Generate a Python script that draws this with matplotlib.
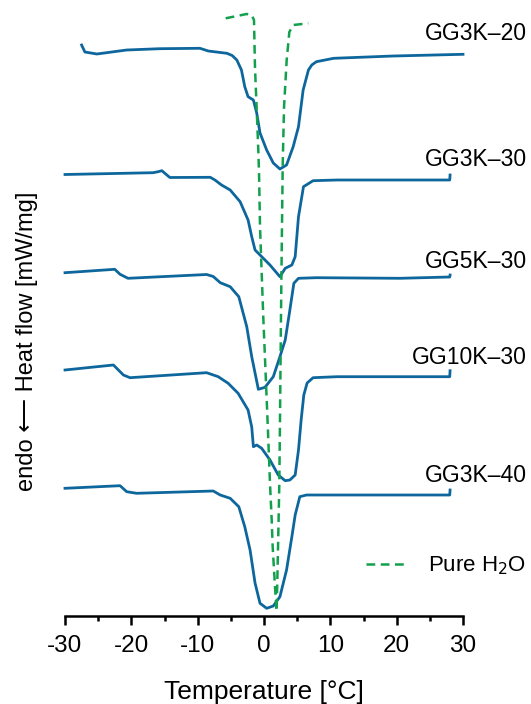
import matplotlib
matplotlib.use("Agg")
import matplotlib.pyplot as plt
from matplotlib.lines import Line2D
from matplotlib.ticker import MultipleLocator

plt.rcParams['font.family'] = ['Liberation Sans', 'DejaVu Sans']
plt.rcParams['axes.unicode_minus'] = False

BLUE = '#0e679c'
GREEN = '#12a04c'

# DSC traces, stacked with an offset (arbitrary heat flow units)
t_3k20 = [-27.5, -27.0, -25.2, -20.7, -15.7, -9.65, -8.4, -5.6, -4.8, -4.1, -3.4, -2.9, -2.4,
          -1.6, -1.1, -0.6, 0.4, 1.4, 2.4, 3.4, 4.4, 5.2, 5.9, 6.7, 7.2, 7.9, 10.5, 19.5, 30.0]
hf_3k20 = [571, 564, 562, 566, 567.3, 567.7, 565, 562.7, 560.5, 556, 546, 529.3, 519.3,
           516, 503, 483, 466, 453, 447, 451, 469.3, 489.3, 526, 546, 551, 554.3, 557.7, 560, 561.7]

t_3k30 = [-30.0, -16.7, -15.95, -15.4, -14.2, -8.1, -7.4, -6.4, -5.1, -3.6, -2.4, -1.85, -1.35,
          -0.6, 0.9, 2.4, 3.2, 4.2, 4.7, 5.2, 5.95, 7.4, 11.0, 20.5, 28.0, 28.05]
hf_3k30 = [441.5, 443.3, 444.3, 445.3, 438.5, 438.7, 436, 431, 426, 414.3, 396, 379.3, 366,
           361, 351, 339.3, 347.7, 351, 359.3, 399.3, 429.3, 435.3, 436, 436, 436, 441]

t_5k30 = [-30.0, -22.5, -21.7, -20.5, -8.65, -7.65, -6.6, -5.1, -3.8, -2.6, -1.85, -0.85,
          0.15, 1.4, 2.4, 3.2, 3.9, 4.5, 5.2, 7.9, 20.5, 28.0, 28.05]
hf_5k30 = [343.3, 346.7, 341.7, 337.7, 341.5, 339.5, 333.3, 329.3, 319.3, 289.3, 259.3, 226.7,
           228.7, 239.3, 259.3, 276, 306, 332.7, 337.7, 338.3, 337.7, 339, 341]

t_10k30 = [-30.0, -22.7, -21.2, -20.2, -8.65, -6.9, -5.4, -3.9, -2.4, -1.85, -1.6, -1.1,
           -0.35, 0.9, 2.15, 3.2, 3.9, 4.7, 5.2, 5.6, 6.0, 6.5, 7.4, 11.0, 20.5, 28.0, 28.05]
hf_10k30 = [246, 251, 241, 238.3, 243.3, 239.3, 232.7, 222.7, 206, 189, 169.3, 171,
            167.7, 156, 141, 135.3, 136, 141, 166, 196, 221, 233, 238.3, 239.3, 239.3, 239.3, 245.3]

t_3k40 = [-30.0, -21.7, -20.7, -19.2, -7.65, -6.6, -5.1, -3.8, -2.9, -2.1, -1.35, -0.6,
          0.4, 1.4, 2.4, 3.4, 4.2, 4.7, 5.4, 6.4, 20.5, 28.0, 28.05]
hf_3k40 = [127.7, 130.3, 124.3, 122.7, 125, 121, 117.7, 109.3, 89.3, 66, 33, 12.7,
           7.7, 10, 19.3, 46, 79.3, 101, 119.3, 121, 121, 121, 126]

t_h2o = [-5.78, -2.61, -1.86, -1.51, -1.36, -1.10, -0.86, -0.75, -0.60, -0.11, 0.41, 0.65,
         0.90, 1.16, 1.31, 1.66, 1.89, 2.0, 2.16, 2.31, 2.41, 2.56, 2.67, 2.82, 3.02, 3.42,
         3.82, 4.42, 6.68]
hf_h2o = [597.7, 602, 601, 596, 549, 506, 466, 443, 389, 299, 216, 176,
          133, 96, 69, 29, 5, 33, 83, 133, 196, 299, 366, 451, 509, 556,
          584, 591, 592.7]

samples = ['GG3K–20', 'GG3K–30', 'GG5K–30', 'GG10K–30', 'GG3K–40']
label_hf = [583, 456, 354, 259, 140]

fig = plt.figure(figsize=(5.31, 7.04), dpi=100)
ax = fig.add_axes([65 / 531, 88 / 704, 398 / 531, 606 / 704])

for t, hf in [(t_3k20, hf_3k20), (t_3k30, hf_3k30), (t_5k30, hf_5k30),
              (t_10k30, hf_10k30), (t_3k40, hf_3k40)]:
    ax.plot(t, hf, color=BLUE, lw=2.0, solid_joinstyle='round', clip_on=False)

ax.plot(t_h2o, hf_h2o, color=GREEN, lw=1.8, ls=(0, (3.5, 2.2)), clip_on=False)

for name, y in zip(samples, label_hf):
    ax.text(39.6, y, name, ha='right', va='center', fontsize=16.5, clip_on=False)

ax.set_xlim(-30, 30)
ax.set_ylim(0, 606)
ax.xaxis.set_major_locator(MultipleLocator(10))
ax.xaxis.set_minor_locator(MultipleLocator(5))
ax.tick_params(axis='x', which='major', direction='out', length=6.5, width=1.8,
               labelsize=17.5, pad=7)
ax.tick_params(axis='x', which='minor', direction='out', length=3.6, width=1.8)
ax.set_yticks([])
for s in ['left', 'right', 'top']:
    ax.spines[s].set_visible(False)
ax.spines['bottom'].set_linewidth(1.8)

ax.set_xlabel('Temperature [°C]', fontsize=19, labelpad=17)
fig.text(27 / 531, 1 - 341 / 704, 'endo \u27f5 Heat flow [mW/mg]', rotation=90,
         ha='center', va='center', fontsize=17)

h2o_handle = Line2D([], [], color=GREEN, lw=1.8, ls=(0, (3.5, 2.2)))
fig.legend([h2o_handle], ['Pure H$_2$O'], loc='center left',
           bbox_to_anchor=(366 / 531, 1 - 566 / 704), frameon=False, fontsize=16,
           handlelength=1.7, handletextpad=1.1, borderpad=0, borderaxespad=0)

fig.savefig('out.png', dpi=100)
